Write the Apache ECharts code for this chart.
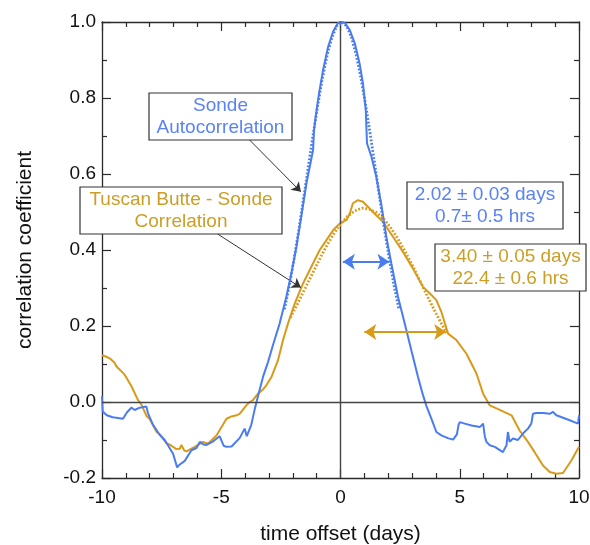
<!DOCTYPE html>
<html><head><meta charset="utf-8">
<script src="https://cdn.jsdelivr.net/npm/echarts@6/dist/echarts.min.js"></script>
<style>html,body{margin:0;padding:0;background:#fff}#c{width:590px;height:545px}</style>
</head><body><div id="c"></div>
<script>
// ---- data ----
const xRange = [-10, 10];
const yRange = [-0.2, 1.0];

// Sonde autocorrelation (solid blue)
const sonde = [
 [-10,0.015],[-9.97,-0.025],[-9.8,-0.035],[-9.55,-0.04],[-9.12,-0.044],[-9.05,-0.043],[-8.95,-0.027],
 [-8.77,-0.015],[-8.63,-0.021],[-8.42,-0.015],[-8.14,-0.012],[-8.07,-0.03],[-7.86,-0.06],[-7.6,-0.085],
 [-7.37,-0.1],[-7.02,-0.136],[-6.85,-0.172],[-6.75,-0.165],[-6.53,-0.155],[-6.25,-0.127],[-6.04,-0.121],
 [-5.9,-0.105],[-5.75,-0.112],[-5.62,-0.113],[-5.35,-0.104],[-5.07,-0.09],[-4.9,-0.115],[-4.78,-0.118],
 [-4.57,-0.117],[-4.23,-0.095],[-4.02,-0.07],[-3.93,-0.09],[-3.74,-0.06],[-3.6,-0.02],[-3.46,0.015],
 [-3.25,0.066],[-3.04,0.105],[-2.83,0.15],[-2.55,0.207],[-2.27,0.277],[-2.06,0.338],[-1.85,0.408],
 [-1.64,0.49],[-1.43,0.575],[-1.26,0.628],[-1.15,0.663],[-1.11,0.716],[-1.04,0.751],[-0.9,0.812],
 [-0.73,0.874],[-0.52,0.935],[-0.31,0.975],[-0.1,0.998],[0,1.0],[0.18,0.998],[0.39,0.979],[0.6,0.944],
 [0.8,0.891],[0.94,0.839],[1.06,0.768],[1.11,0.681],[1.3,0.645],[1.5,0.593],[1.71,0.52],[1.92,0.435],
 [2.13,0.365],[2.41,0.277],[2.69,0.207],[2.97,0.136],[3.25,0.066],[3.45,0.02],[3.6,-0.01],[3.81,-0.044],
 [4.02,-0.079],[4.23,-0.088],[4.5,-0.095],[4.72,-0.099],[4.88,-0.085],[4.95,-0.06],[5.0,-0.053],
 [5.21,-0.057],[5.5,-0.062],[5.84,-0.066],[5.98,-0.057],[6.05,-0.09],[6.12,-0.105],[6.26,-0.114],
 [6.47,-0.118],[6.81,-0.132],[6.96,-0.114],[7.02,-0.079],[7.09,-0.105],[7.23,-0.096],[7.44,-0.1],
 [7.65,-0.083],[7.86,-0.07],[8.0,-0.057],[8.07,-0.031],[8.21,-0.029],[8.5,-0.029],[8.77,-0.031],
 [8.91,-0.026],[9.05,-0.035],[9.61,-0.048],[9.96,-0.057],[10,-0.035]
];

// Tuscan Butte - Sonde correlation (solid orange)
const tuscan = [
 [-10,0.123],[-9.82,0.119],[-9.68,0.115],[-9.47,0.103],[-9.4,0.094],[-9.05,0.072],[-8.77,0.042],
 [-8.49,0.005],[-8.35,-0.006],[-8.14,-0.036],[-8.0,-0.045],[-7.72,-0.078],[-7.58,-0.085],[-7.3,-0.108],
 [-7.16,-0.112],[-6.88,-0.124],[-6.74,-0.123],[-6.67,-0.113],[-6.55,-0.128],[-6.46,-0.13],[-6.11,-0.118],
 [-5.77,-0.105],[-5.56,-0.11],[-5.2,-0.088],[-4.78,-0.044],[-4.57,-0.038],[-4.36,-0.035],[-4.23,-0.031],
 [-3.95,-0.009],[-3.81,0.0],[-3.67,0.005],[-3.46,0.022],[-3.25,0.033],[-3.11,0.044],[-2.9,0.065],
 [-2.62,0.11],[-2.41,0.163],[-2.2,0.207],[-1.92,0.259],[-1.57,0.312],[-1.15,0.365],[-0.87,0.4],
 [-0.59,0.426],[-0.31,0.452],[-0.03,0.47],[0.25,0.479],[0.39,0.496],[0.52,0.523],[0.73,0.531],
 [0.94,0.527],[1.15,0.514],[1.36,0.5],[1.78,0.474],[2.2,0.435],[2.62,0.395],[3.04,0.351],[3.46,0.303],
 [3.74,0.286],[4.02,0.268],[4.23,0.237],[4.51,0.18],[4.86,0.163],[5.28,0.127],[5.7,0.075],[5.98,0.022],
 [6.26,-0.009],[6.54,-0.017],[7.17,-0.035],[7.51,-0.075],[7.86,-0.105],[8.14,-0.132],[8.49,-0.167],
 [8.77,-0.184],[9.05,-0.189],[9.33,-0.187],[9.68,-0.154],[10,-0.118]
];

// fitted curves (dotted)
const sondeFit = [
 [-2.35,0.244],[-2.15,0.305],[-1.95,0.375],[-1.75,0.452],[-1.55,0.534],[-1.35,0.619],[-1.15,0.703],
 [-0.95,0.783],[-0.75,0.855],[-0.55,0.916],[-0.35,0.962],[-0.15,0.99],[0.05,1.0],[0.25,0.99],[0.45,0.962],
 [0.65,0.916],[0.85,0.855],[1.05,0.783],[1.25,0.703],[1.45,0.619],[1.65,0.534],[1.85,0.452],[2.05,0.375],
 [2.25,0.305],[2.45,0.244]
];
const tuscanFit = [
 [-2.1,0.222],[-1.8,0.259],[-1.5,0.297],[-1.2,0.335],[-0.9,0.373],[-0.6,0.409],[-0.3,0.441],[0,0.468],
 [0.3,0.489],[0.6,0.503],[0.9,0.51],[1.2,0.508],[1.5,0.499],[1.8,0.483],[2.1,0.459],[2.4,0.43],
 [2.7,0.397],[3.0,0.361],[3.3,0.323],[3.6,0.284],[3.9,0.246],[4.2,0.21],[4.45,0.182]
];

// width arrows and leader arrows (data coordinates)
const sondeWidthArrow = [[0.1, 0.369], [2.05, 0.369]];
const tuscanWidthArrow = [[1.0, 0.184], [4.43, 0.184]];
const sondeLeader = [[-3.93, 0.697], [-1.66, 0.553]];
const tuscanLeader = [[-5.15, 0.442], [-1.66, 0.301]];

const labels = {
  sondeBox: 'Sonde\nAutocorrelation',
  tuscanBox: 'Tuscan Butte - Sonde\nCorrelation',
  sondeStats: '2.02 \u00b1 0.03 days\n0.7\u00b1 0.5 hrs',
  tuscanStats: '3.40 \u00b1 0.05 days\n22.4 \u00b1 0.6 hrs',
  xName: 'time offset (days)',
  yName: 'correlation coefficient'
};

// ---- styling ----
const BLUE = '#4a7cf0', ORANGE = '#d99a1a';
const BLUE_T = '#5a82f5', ORANGE_T = '#cc9e26';
const FONT = '"Liberation Sans", Arial, Helvetica, sans-serif';
const AX = '#2a2a2a';

const chart = echarts.init(document.getElementById('c'), null, {renderer: 'canvas'});

function axisCommon(extra) {
  return Object.assign({
    type: 'value',
    axisLine: {show: true, onZero: false, lineStyle: {color: AX, width: 1.3}},
    axisTick: {show: true, inside: true, length: 9, lineStyle: {color: AX, width: 1.2}},
    minorTick: {show: true, length: 5, lineStyle: {color: AX, width: 1.2}},
    splitLine: {show: false},
    minorSplitLine: {show: false}
  }, extra);
}

const fmt = v => (Math.abs(v) < 1e-9 ? '0.0' : v.toFixed(1));

function box(x, y, w, h, text, color) {
  return [
    {type: 'rect', z: 100, shape: {x: x, y: y, width: w, height: h},
     style: {fill: '#fff', stroke: '#333', lineWidth: 1.2}},
    {type: 'text', z: 101, x: x + w / 2, y: y + h / 2,
     style: {text: text, fill: color, fontSize: 19, fontFamily: FONT,
             align: 'center', verticalAlign: 'middle', lineHeight: 22}}
  ];
}

const arrowLine = (coords, color, width, sym, size) => ({
  silent: true, animation: false,
  symbol: sym, symbolSize: size,
  label: {show: false},
  lineStyle: {color: color, width: width, type: 'solid'},
  emphasis: {disabled: true},
  data: [[{coord: coords[0]}, {coord: coords[1]}]]
});

const option = {
  animation: false,
  backgroundColor: '#fff',
  grid: {left: 102, right: 11, top: 22, bottom: 67, containLabel: false, outerBoundsMode: 'none'},
  xAxis: [
    axisCommon({
      min: xRange[0], max: xRange[1], interval: 5, position: 'bottom',
      minorTick: {show: true, splitNumber: 5, length: 5, lineStyle: {color: AX, width: 1.2}},
      axisLabel: {show: true, fontSize: 19, color: '#111', fontFamily: FONT, margin: 10},
      name: labels.xName, nameLocation: 'middle', nameGap: 46,
      nameTextStyle: {fontSize: 21, color: '#111', fontFamily: FONT}
    }),
    axisCommon({
      min: xRange[0], max: xRange[1], interval: 5, position: 'top',
      minorTick: {show: true, splitNumber: 5, length: 5, lineStyle: {color: AX, width: 1.2}},
      axisLabel: {show: false}
    })
  ],
  yAxis: [
    axisCommon({
      min: yRange[0], max: yRange[1], interval: 0.2, position: 'left',
      minorTick: {show: true, splitNumber: 2, length: 5, lineStyle: {color: AX, width: 1.2}},
      axisLabel: {show: true, fontSize: 19, color: '#111', fontFamily: FONT, margin: 6, formatter: fmt},
      name: labels.yName, nameLocation: 'middle', nameGap: 66, nameRotate: 90,
      nameTextStyle: {fontSize: 21, color: '#111', fontFamily: FONT}
    }),
    axisCommon({
      min: yRange[0], max: yRange[1], interval: 0.2, position: 'right',
      minorTick: {show: true, splitNumber: 2, length: 5, lineStyle: {color: AX, width: 1.2}},
      axisLabel: {show: false}
    })
  ],
  series: [
    {
      name: 'refs', type: 'line', data: [[0, 0]], symbol: 'none', z: 1,
      lineStyle: {width: 0},
      markLine: {
        silent: true, animation: false, symbol: 'none', label: {show: false},
        lineStyle: {color: '#444', width: 1.4, type: 'solid'},
        emphasis: {disabled: true},
        data: [{xAxis: 0}, {yAxis: 0}]
      }
    },
    {
      name: 'Tuscan Butte - Sonde', type: 'line', data: tuscan, symbol: 'none', z: 3,
      lineStyle: {color: ORANGE, width: 2}, itemStyle: {color: ORANGE},
      markLine: arrowLine(tuscanLeader, '#333', 1, ['none', 'arrow'], 9)
    },
    {
      name: 'Sonde', type: 'line', data: sonde, symbol: 'none', z: 4,
      lineStyle: {color: BLUE, width: 2}, itemStyle: {color: BLUE},
      markLine: arrowLine(sondeLeader, '#333', 1, ['none', 'arrow'], 9)
    },
    {
      name: 'Tuscan fit', type: 'line', data: tuscanFit, symbol: 'none', z: 5,
      lineStyle: {color: ORANGE, width: 2.8, type: [1.8, 1.8], cap: 'butt'}, itemStyle: {color: ORANGE},
      markLine: arrowLine(tuscanWidthArrow, ORANGE, 2, ['arrow', 'arrow'], 12)
    },
    {
      name: 'Sonde fit', type: 'line', data: sondeFit, symbol: 'none', z: 6,
      lineStyle: {color: BLUE, width: 2.8, type: [1.8, 1.8], cap: 'butt'}, itemStyle: {color: BLUE},
      markLine: arrowLine(sondeWidthArrow, BLUE, 2, ['arrow', 'arrow'], 12)
    }
  ],
  graphic: [].concat(
    box(149, 93, 143, 47, labels.sondeBox, BLUE_T),
    box(80, 187, 202, 47, labels.tuscanBox, ORANGE_T),
    box(407, 182, 156, 47, labels.sondeStats, BLUE_T),
    box(435, 244, 151, 47, labels.tuscanStats, ORANGE_T)
  )
};

chart.setOption(option);
</script>
</body></html>
